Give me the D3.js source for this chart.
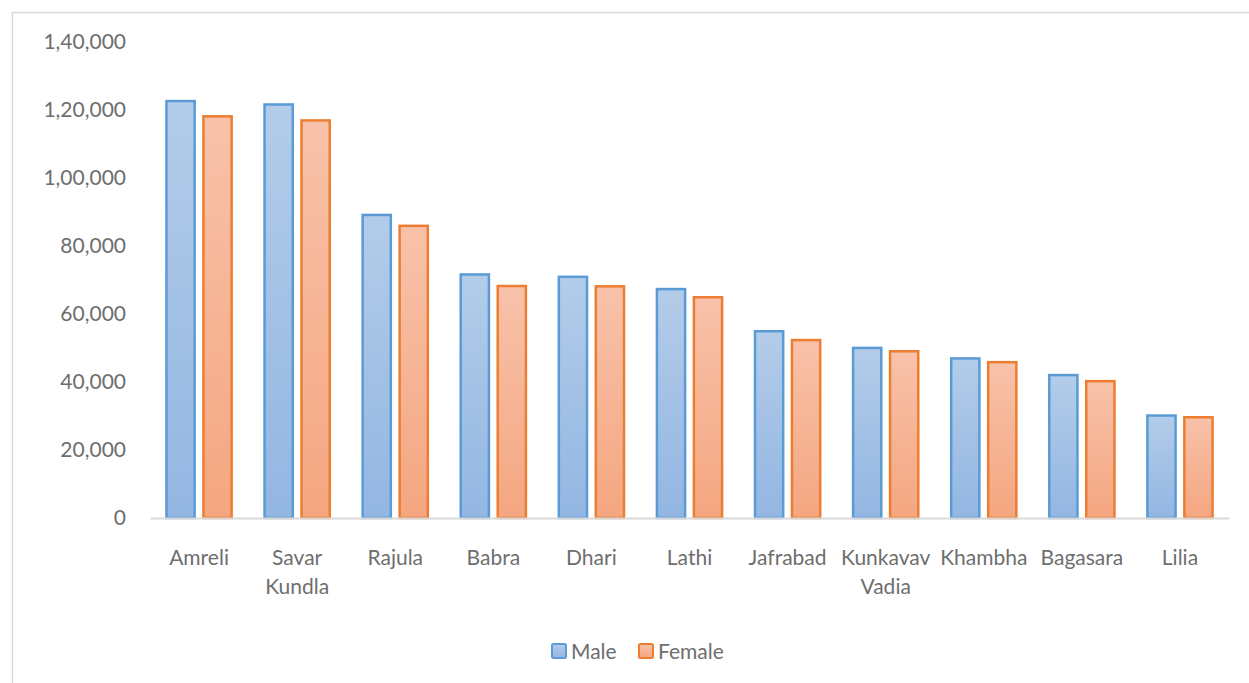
<!DOCTYPE html>
<html><head><meta charset="utf-8">
<script src="https://cdn.jsdelivr.net/npm/d3@7"></script>
<style>body{margin:0;background:#fff}svg{display:block}</style>
</head><body>
<svg id="c" width="1249" height="683"></svg>
<script>
const categories = ["Amreli","Savar Kundla","Rajula","Babra","Dhari","Lathi","Jafrabad","Kunkavav Vadia","Khambha","Bagasara","Lilia"];
const categoryLines = [["Amreli"],["Savar","Kundla"],["Rajula"],["Babra"],["Dhari"],["Lathi"],["Jafrabad"],["Kunkavav","Vadia"],["Khambha"],["Bagasara"],["Lilia"]];
const seriesNames = ["Male","Female"];
const male = [123000,122000,89500,72000,71300,67700,55300,50400,47300,42400,30500];
const female = [118500,117300,86300,68600,68500,65300,52700,49400,46200,40600,30000];
const yTicks = [0,20000,40000,60000,80000,100000,120000,140000];
const yTickLabels = ["0","20,000","40,000","60,000","80,000","1,00,000","1,20,000","1,40,000"];

const svg = d3.select("#c");
const font = "Lato, 'Open Sans', sans-serif";
const textColor = "#6e6e6e";
const fs = 21;

svg.append("rect").attr("x",12.5).attr("y",12.5).attr("width",1250).attr("height",700)
  .attr("fill","#fff").attr("stroke","#d9d9d9").attr("stroke-width",1.5);

const left = 150, right = 1229, y0 = 518, yTop = 42;
const y = d3.scaleLinear().domain([0,140000]).range([y0,yTop]);
const x0 = d3.scaleBand().domain(categories).range([left,right]).paddingInner(0.31).paddingOuter(0.155);
const x1 = d3.scaleBand().domain(seriesNames).range([0,x0.bandwidth()]).paddingInner(0.17);

const defs = svg.append("defs");
const grads = {Male:["#b3cce9","#93b6e2"], Female:["#f8c2aa","#f4a680"]};
const strokes = {Male:"#5b9bd5", Female:"#ed7d31"};
Object.entries(grads).forEach(([k,c])=>{
  const g = defs.append("linearGradient").attr("id","g"+k).attr("x1",0).attr("y1",0).attr("x2",0).attr("y2",1);
  g.append("stop").attr("offset","0%").attr("stop-color",c[0]);
  g.append("stop").attr("offset","100%").attr("stop-color",c[1]);
});

// y axis labels
const yAxis = d3.axisLeft(y).tickValues(yTicks).tickFormat((d,i)=>yTickLabels[i]).tickSize(0).tickPadding(0);
const ya = svg.append("g").attr("transform",`translate(126,0)`).call(yAxis);
ya.select(".domain").remove();
ya.selectAll("text").attr("font-family",font).attr("font-size",fs).attr("fill",textColor);

// bars
const data = categories.map((c,i)=>({c, vals:[{k:"Male",v:male[i]},{k:"Female",v:female[i]}]}));
const grp = svg.append("g").selectAll("g").data(data).join("g").attr("transform",d=>`translate(${x0(d.c)},0)`);
grp.selectAll("rect").data(d=>d.vals).join("rect")
  .attr("x",d=>x1(d.k)+1.25).attr("width",x1.bandwidth()-2.5)
  .attr("y",d=>y(d.v)+1.25).attr("height",d=>y0-y(d.v)-1.25)
  .attr("fill",d=>`url(#g${d.k})`).attr("stroke",d=>strokes[d.k]).attr("stroke-width",2.5);

// x axis
const xAxis = d3.axisBottom(x0).tickSize(0).tickFormat("");
const xa = svg.append("g").attr("transform",`translate(0,${y0})`).call(xAxis);
xa.select(".domain").attr("stroke","#d9d9d9").attr("stroke-width",2);
xa.selectAll(".tick").each(function(d,i){
  const t = d3.select(this).append("text").attr("font-family",font).attr("font-size",fs).attr("fill",textColor).attr("text-anchor","middle");
  categoryLines[i].forEach((line,j)=>t.append("tspan").attr("x",0).attr("y",47+j*29).text(line));
});

// legend
const legend = svg.append("g").attr("transform","translate(551,643)");
const items = [{k:"Male",x:0},{k:"Female",x:87}];
items.forEach(it=>{
  const g = legend.append("g").attr("transform",`translate(${it.x},0)`);
  g.append("rect").attr("x",1).attr("y",1).attr("width",14).attr("height",14).attr("rx",1.5)
    .attr("fill",`url(#g${it.k})`).attr("stroke",strokes[it.k]).attr("stroke-width",2);
  g.append("text").attr("x",20).attr("y",16).attr("font-family",font).attr("font-size",fs).attr("fill",textColor).text(it.k);
});
</script>
</body></html>
